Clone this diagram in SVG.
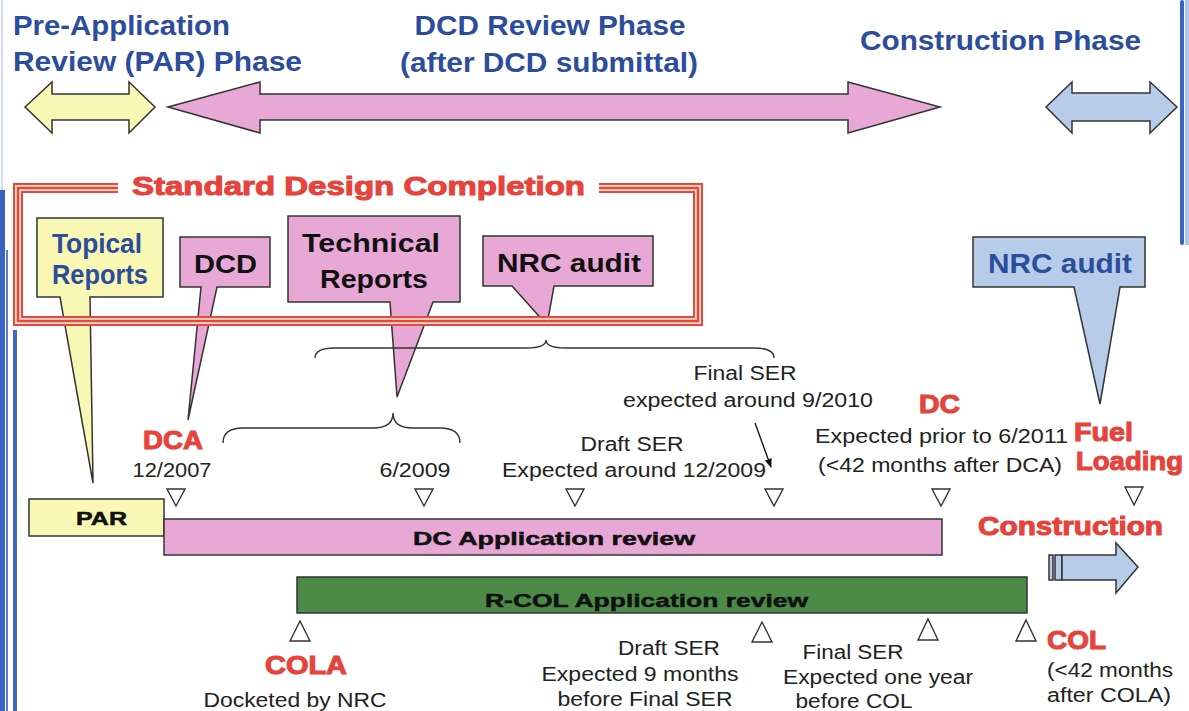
<svg xmlns="http://www.w3.org/2000/svg" width="1189" height="711" viewBox="0 0 1189 711">
  <style>
    .t { font-family: "Liberation Sans", Arial, sans-serif; fill: #222; font-size: 19.5px; }
    .hd { font-family: "Liberation Sans", Arial, sans-serif; font-weight: bold; fill: #2c4c9c; font-size: 28px; }
    .red { font-family: "Liberation Sans", Arial, sans-serif; font-weight: bold; fill: #e5433b; stroke: #e5433b; stroke-width: 1; font-size: 25px; }
    .lbl { font-family: "Liberation Sans", Arial, sans-serif; font-weight: bold; fill: #111; font-size: 25px; }
    .bar { font-family: "Liberation Sans", Arial, sans-serif; font-weight: bold; fill: #111; stroke: #111; stroke-width: 0.5; font-size: 19px; }
    .ol { stroke: #333; stroke-width: 1.5; stroke-linejoin: miter; }
    .yel { fill: #f8f8b4; }
    .pink { fill: #e8a8d6; }
    .blue { fill: #b6cce9; }
    .grn { fill: #4c8a48; }
    .mk { fill: #fff; stroke: #333; stroke-width: 1.4; }
    .brace { fill: none; stroke: #333; stroke-width: 1.4; }
  </style>
  <defs>
    <marker id="ah" viewBox="0 0 10 10" refX="9" refY="5" markerWidth="7" markerHeight="7" orient="auto">
      <path d="M0,1 L10,5 L0,9 Z" fill="#111"/>
    </marker>
  </defs>

  <rect width="1189" height="711" fill="#fff"/>

  <!-- slide edge decoration -->
  <g id="edges">
    <rect x="1" y="0" width="2" height="190" fill="#cfdcf2"/>
    <rect x="0" y="190" width="5" height="521" fill="#3a62c2"/>
    <rect x="6" y="250" width="2" height="461" fill="#5a7fd0"/>
    <rect x="13" y="330" width="4" height="381" fill="#4068c4"/>
    <rect x="1180" y="0" width="4" height="245" rx="2" fill="#3b63c4"/>
    <rect x="1185" y="0" width="4" height="245" fill="#b0c6ea"/>
  </g>

  <!-- phase headings -->
  <g id="phase-par">
    <text class="hd" x="13" y="35" textLength="217" lengthAdjust="spacingAndGlyphs">Pre-Application</text>
    <text class="hd" x="13" y="71" textLength="289" lengthAdjust="spacingAndGlyphs">Review (PAR) Phase</text>
    <polygon class="yel ol" points="25,107 52,82 52,94 129,94 129,82 155,107 129,133 129,120 52,120 52,133"/>
  </g>
  <g id="phase-dcd">
    <text class="hd" x="550" y="35" text-anchor="middle" textLength="271" lengthAdjust="spacingAndGlyphs">DCD Review Phase</text>
    <text class="hd" x="549" y="72" text-anchor="middle" textLength="298" lengthAdjust="spacingAndGlyphs">(after DCD submittal)</text>
    <polygon class="pink ol" points="168,107 260,82 260,94 848,94 848,82 940,107 848,133 848,120 260,120 260,133"/>
  </g>
  <g id="phase-construction">
    <text class="hd" x="860" y="50" textLength="281" lengthAdjust="spacingAndGlyphs">Construction Phase</text>
    <polygon class="blue ol" points="1046,107 1072,82 1072,93 1150,93 1150,82 1177,107 1150,133 1150,121 1072,121 1072,133"/>
  </g>

  <!-- callouts -->
  <g id="callout-topical">
    <path class="yel ol" d="M37,218 H163 V297 H90 L93,483 L60,297 H37 Z"/>
    <text class="hd" x="52" y="253" font-size="24" textLength="90" lengthAdjust="spacingAndGlyphs">Topical</text>
    <text class="hd" x="52" y="284" font-size="24" textLength="96" lengthAdjust="spacingAndGlyphs">Reports</text>
  </g>
  <g id="callout-dcd">
    <path class="pink ol" d="M180,237 H270 V287 H217 L188,420 L201,287 H180 Z"/>
    <text class="lbl" x="194" y="273" textLength="63" lengthAdjust="spacingAndGlyphs">DCD</text>
  </g>
  <g id="callout-technical">
    <path class="pink ol" d="M288,216 H460 V302 H433 L397,397 L390,302 H288 Z"/>
    <text class="lbl" x="302" y="252" textLength="138" lengthAdjust="spacingAndGlyphs">Technical</text>
    <text class="lbl" x="320" y="288" textLength="108" lengthAdjust="spacingAndGlyphs">Reports</text>
  </g>
  <g id="callout-nrc-design">
    <path class="pink ol" d="M483,236 H653 V286 H554 L547,325 L512,286 H483 Z"/>
    <text class="lbl" x="497" y="272" textLength="144" lengthAdjust="spacingAndGlyphs">NRC audit</text>
  </g>
  <g id="callout-nrc-construction">
    <path class="blue ol" d="M973,237 H1145 V287 H1120 L1100,404 L1074,287 H973 Z"/>
    <text class="hd" x="988" y="273" font-size="25" textLength="144" lengthAdjust="spacingAndGlyphs">NRC audit</text>
  </g>

  <!-- Standard Design Completion frame (triple line) -->
  <g id="frame">
    <path d="M118,188 H18 V321 H698 V188 H599" fill="none" stroke="#e8473f" stroke-width="10"/>
    <path d="M118,188 H18 V321 H698 V188 H599" fill="none" stroke="#fbe0c8" stroke-width="6"/>
    <path d="M118,188 H18 V321 H698 V188 H599" fill="none" stroke="#e8473f" stroke-width="2.5"/>
    <text class="red" x="132" y="195" font-size="30" stroke-width="0.6" textLength="453" lengthAdjust="spacingAndGlyphs">Standard Design Completion</text>
  </g>

  <!-- braces and pointer arrow -->
  <g id="connectors">
    <path class="brace" d="M315,358 Q315,348 335,348 L526,348 Q546,348 546,340 Q546,348 566,348 L754,348 Q774,348 774,358"/>
    <path class="brace" d="M223,443 Q223,428 243,428 L373,428 Q393,428 393,413 Q393,428 413,428 L440,428 Q460,428 460,443"/>
    <line x1="755" y1="423" x2="771" y2="467" stroke="#111" stroke-width="1.3" marker-end="url(#ah)"/>
  </g>

  <!-- milestone labels above the DC bar -->
  <g id="milestones-dc">
    <text class="red" x="143" y="449" textLength="60" lengthAdjust="spacingAndGlyphs">DCA</text>
    <text class="t" x="172" y="477" text-anchor="middle" textLength="79" lengthAdjust="spacingAndGlyphs">12/2007</text>
    <text class="t" x="415" y="477" text-anchor="middle" textLength="71" lengthAdjust="spacingAndGlyphs">6/2009</text>
    <text class="t" x="632" y="451" text-anchor="middle" textLength="103" lengthAdjust="spacingAndGlyphs">Draft SER</text>
    <text class="t" x="634" y="477" text-anchor="middle" textLength="264" lengthAdjust="spacingAndGlyphs">Expected around 12/2009</text>
    <text class="t" x="745" y="380" text-anchor="middle" textLength="103" lengthAdjust="spacingAndGlyphs">Final SER</text>
    <text class="t" x="748" y="407" text-anchor="middle" textLength="250" lengthAdjust="spacingAndGlyphs">expected around 9/2010</text>
    <text class="red" x="919" y="413" textLength="41" lengthAdjust="spacingAndGlyphs">DC</text>
    <text class="t" x="815" y="443" textLength="253" lengthAdjust="spacingAndGlyphs">Expected prior to 6/2011</text>
    <text class="t" x="818" y="472" textLength="244" lengthAdjust="spacingAndGlyphs">(&lt;42 months after DCA)</text>
    <text class="red" x="1074" y="441" textLength="59" lengthAdjust="spacingAndGlyphs">Fuel</text>
    <text class="red" x="1076" y="470" textLength="107" lengthAdjust="spacingAndGlyphs">Loading</text>
    <polygon class="mk" points="167,489 185,489 176,506"/>
    <polygon class="mk" points="415,489 433,489 424,506"/>
    <polygon class="mk" points="566,489 584,489 575,506"/>
    <polygon class="mk" points="765,489 783,489 774,506"/>
    <polygon class="mk" points="932,489 950,489 941,506"/>
    <polygon class="mk" points="1125,487 1143,487 1134,505"/>
  </g>

  <!-- review bars -->
  <g id="bar-par">
    <rect class="yel ol" x="29" y="499" width="135" height="37"/>
    <text class="bar" x="76" y="525" textLength="51" lengthAdjust="spacingAndGlyphs">PAR</text>
  </g>
  <g id="bar-dc">
    <rect class="pink ol" x="164" y="519" width="778" height="36"/>
    <text class="bar" x="413" y="545" textLength="282" lengthAdjust="spacingAndGlyphs">DC Application review</text>
  </g>
  <g id="bar-rcol">
    <rect class="grn ol" x="297" y="577" width="730" height="36"/>
    <text class="bar" x="485" y="607" textLength="323" lengthAdjust="spacingAndGlyphs">R-COL Application review</text>
  </g>
  <g id="construction">
    <text class="red" x="978" y="535" textLength="185" lengthAdjust="spacingAndGlyphs">Construction</text>
    <rect class="blue ol" x="1049" y="555" width="4" height="25" stroke-width="1.2"/>
    <rect class="blue ol" x="1055" y="555" width="7" height="25" stroke-width="1.2"/>
    <path class="blue ol" d="M1062,555 H1116 V543 L1138,567 L1116,593 V580 H1062 Z"/>
  </g>

  <!-- milestone labels below the R-COL bar -->
  <g id="milestones-col">
    <polygon class="mk" points="300,621 310,641 290,641"/>
    <polygon class="mk" points="762,622 772,642 752,642"/>
    <polygon class="mk" points="928,619 938,640 918,640"/>
    <polygon class="mk" points="1026,620 1036,641 1016,641"/>
    <text class="red" x="265" y="674" textLength="82" lengthAdjust="spacingAndGlyphs">COLA</text>
    <text class="t" x="295" y="707" text-anchor="middle" textLength="183" lengthAdjust="spacingAndGlyphs">Docketed by NRC</text>
    <text class="t" x="669" y="655" text-anchor="middle" textLength="102" lengthAdjust="spacingAndGlyphs">Draft SER</text>
    <text class="t" x="640" y="681" text-anchor="middle" textLength="197" lengthAdjust="spacingAndGlyphs">Expected 9 months</text>
    <text class="t" x="645" y="706" text-anchor="middle" textLength="175" lengthAdjust="spacingAndGlyphs">before Final SER</text>
    <text class="t" x="853" y="659" text-anchor="middle" textLength="101" lengthAdjust="spacingAndGlyphs">Final SER</text>
    <text class="t" x="878" y="684" text-anchor="middle" textLength="190" lengthAdjust="spacingAndGlyphs">Expected one year</text>
    <text class="t" x="854" y="708" text-anchor="middle" textLength="117" lengthAdjust="spacingAndGlyphs">before COL</text>
    <text class="red" x="1047" y="649" textLength="59" lengthAdjust="spacingAndGlyphs">COL</text>
    <text class="t" x="1047" y="677" textLength="126" lengthAdjust="spacingAndGlyphs">(&lt;42 months</text>
    <text class="t" x="1047" y="702" textLength="124" lengthAdjust="spacingAndGlyphs">after COLA)</text>
  </g>
</svg>
